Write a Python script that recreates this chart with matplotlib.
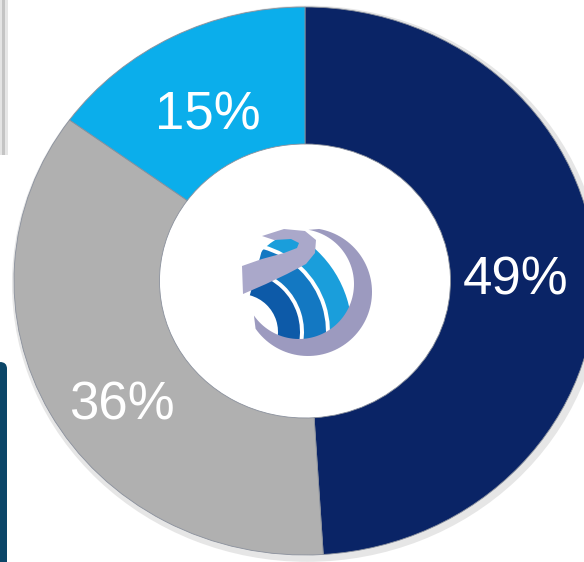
"""
Donut chart: share split 49 / 36 / 15 with a logo in the hole.
Writes out.png (584 x 562 px).
"""

import matplotlib
matplotlib.use("Agg")
import matplotlib.pyplot as plt
import matplotlib.transforms as mtransforms
import numpy as np
from matplotlib.patches import Circle, FancyBboxPatch, Polygon, Wedge

# ---------------------------------------------------------------------------
# Data
# ---------------------------------------------------------------------------

segments = ["A", "B", "C"]
shares = [49, 36, 15]
seg_colors = ["#0a2466", "#b0b0b0", "#0baeeb"]

# small hand nudges (px) so labels sit where the source graphic has them
label_nudge = [(-2, -6), (3, -28), (-1, -13)]

plt.rcParams["font.family"] = ["Liberation Sans", "DejaVu Sans"]

W, H = 584, 562
fig = plt.figure(figsize=(W / 100, H / 100), dpi=100)
fig.patch.set_facecolor("white")

# pieces of neighbouring panels cropped at the left edge
for x0, w, c in [(0, 2, "#e4e4e4"), (2, 3, "#c4c4c4"), (5, 3, "#e6e6e6")]:
    fig.patches.append(plt.Rectangle((x0 / W, 1 - 155 / H), w / W, 155 / H,
                                     transform=fig.transFigure,
                                     facecolor=c, edgecolor="none"))
fig.patches.append(FancyBboxPatch((-6 / W, -0.02), 13 / W, (H - 362) / H + 0.02,
                                  boxstyle="round,pad=0,rounding_size=0.012",
                                  transform=fig.transFigure,
                                  facecolor="#0b4668", edgecolor="none"))

# ---------------------------------------------------------------------------
# Donut (slightly squashed ellipse, like the source graphic)
# ---------------------------------------------------------------------------

ax = fig.add_axes([0, 0, 1, 1])
rx, ry = 291, 274          # outer radius in px, horizontal / vertical
cx, cy = 305, 281          # centre in px (from top-left)

# soft shadow behind the ring
ax.pie([1], radius=1.015, colors=["#e6e6e6"],
       wedgeprops=dict(width=0.5, linewidth=0), center=(0.008, -0.01))

wedges, texts, autotexts = ax.pie(
    shares, colors=seg_colors, startangle=90, counterclock=False,
    radius=1.0, autopct="%d%%", pctdistance=0.73,
    wedgeprops=dict(width=0.5, edgecolor="#8a909c", linewidth=0.6),
    textprops=dict(color="white", fontsize=38),
)
for t, (dx, dy) in zip(autotexts, label_nudge):
    t.set_transform(mtransforms.offset_copy(ax.transData, fig=fig,
                                            x=dx, y=dy, units="dots"))

ax.set_xlim(-cx / rx, (W - cx) / rx)
ax.set_ylim(-(H - cy) / ry, cy / ry)
ax.set_aspect("auto")
ax.axis("off")

# ---------------------------------------------------------------------------
# Logo in the hole (stylised); drawn in pixel coordinates of the figure
# ---------------------------------------------------------------------------

lax = fig.add_axes([0, 0, 1, 1])
lax.set_xlim(0, W)
lax.set_ylim(H, 0)
lax.axis("off")

lcx, lcy, lr = 308, 292, 64
clip = Circle((lcx - 4, lcy - 4), 56, transform=lax.transData)
band_colors = ["#0d5aa8", "#1378c2", "#1a9edb"]
for r, col in zip([60, 86, 112], band_colors):
    band = Wedge((240, 332), r, -75, 40, width=22, facecolor=col,
                 edgecolor="none")
    lax.add_patch(band)
    band.set_clip_path(clip)

# lavender ribbon curling from the top and sweeping to the left
ribbon = [(262, 236), (284, 229), (305, 231), (316, 240), (315, 253),
          (306, 264), (287, 274), (266, 284), (243, 294), (242, 266),
          (262, 259), (284, 253), (297, 248), (299, 243), (291, 239),
          (274, 240)]
lax.add_patch(Polygon(ribbon, closed=True, facecolor="#aaa8ca",
                      edgecolor="none"))

# crescent on the right / bottom
th = np.radians(np.linspace(80, -145, 80))
outer = np.column_stack([lcx + lr * np.cos(th), lcy - lr * np.sin(th)])
inner = np.column_stack([lcx - 9 + 55 * np.cos(th[::-1]),
                         lcy - 8 - 55 * np.sin(th[::-1])])
lax.add_patch(Polygon(np.vstack([outer, inner]), closed=True,
                      facecolor="#9c9abf", edgecolor="none"))

fig.savefig("out.png", dpi=100)
